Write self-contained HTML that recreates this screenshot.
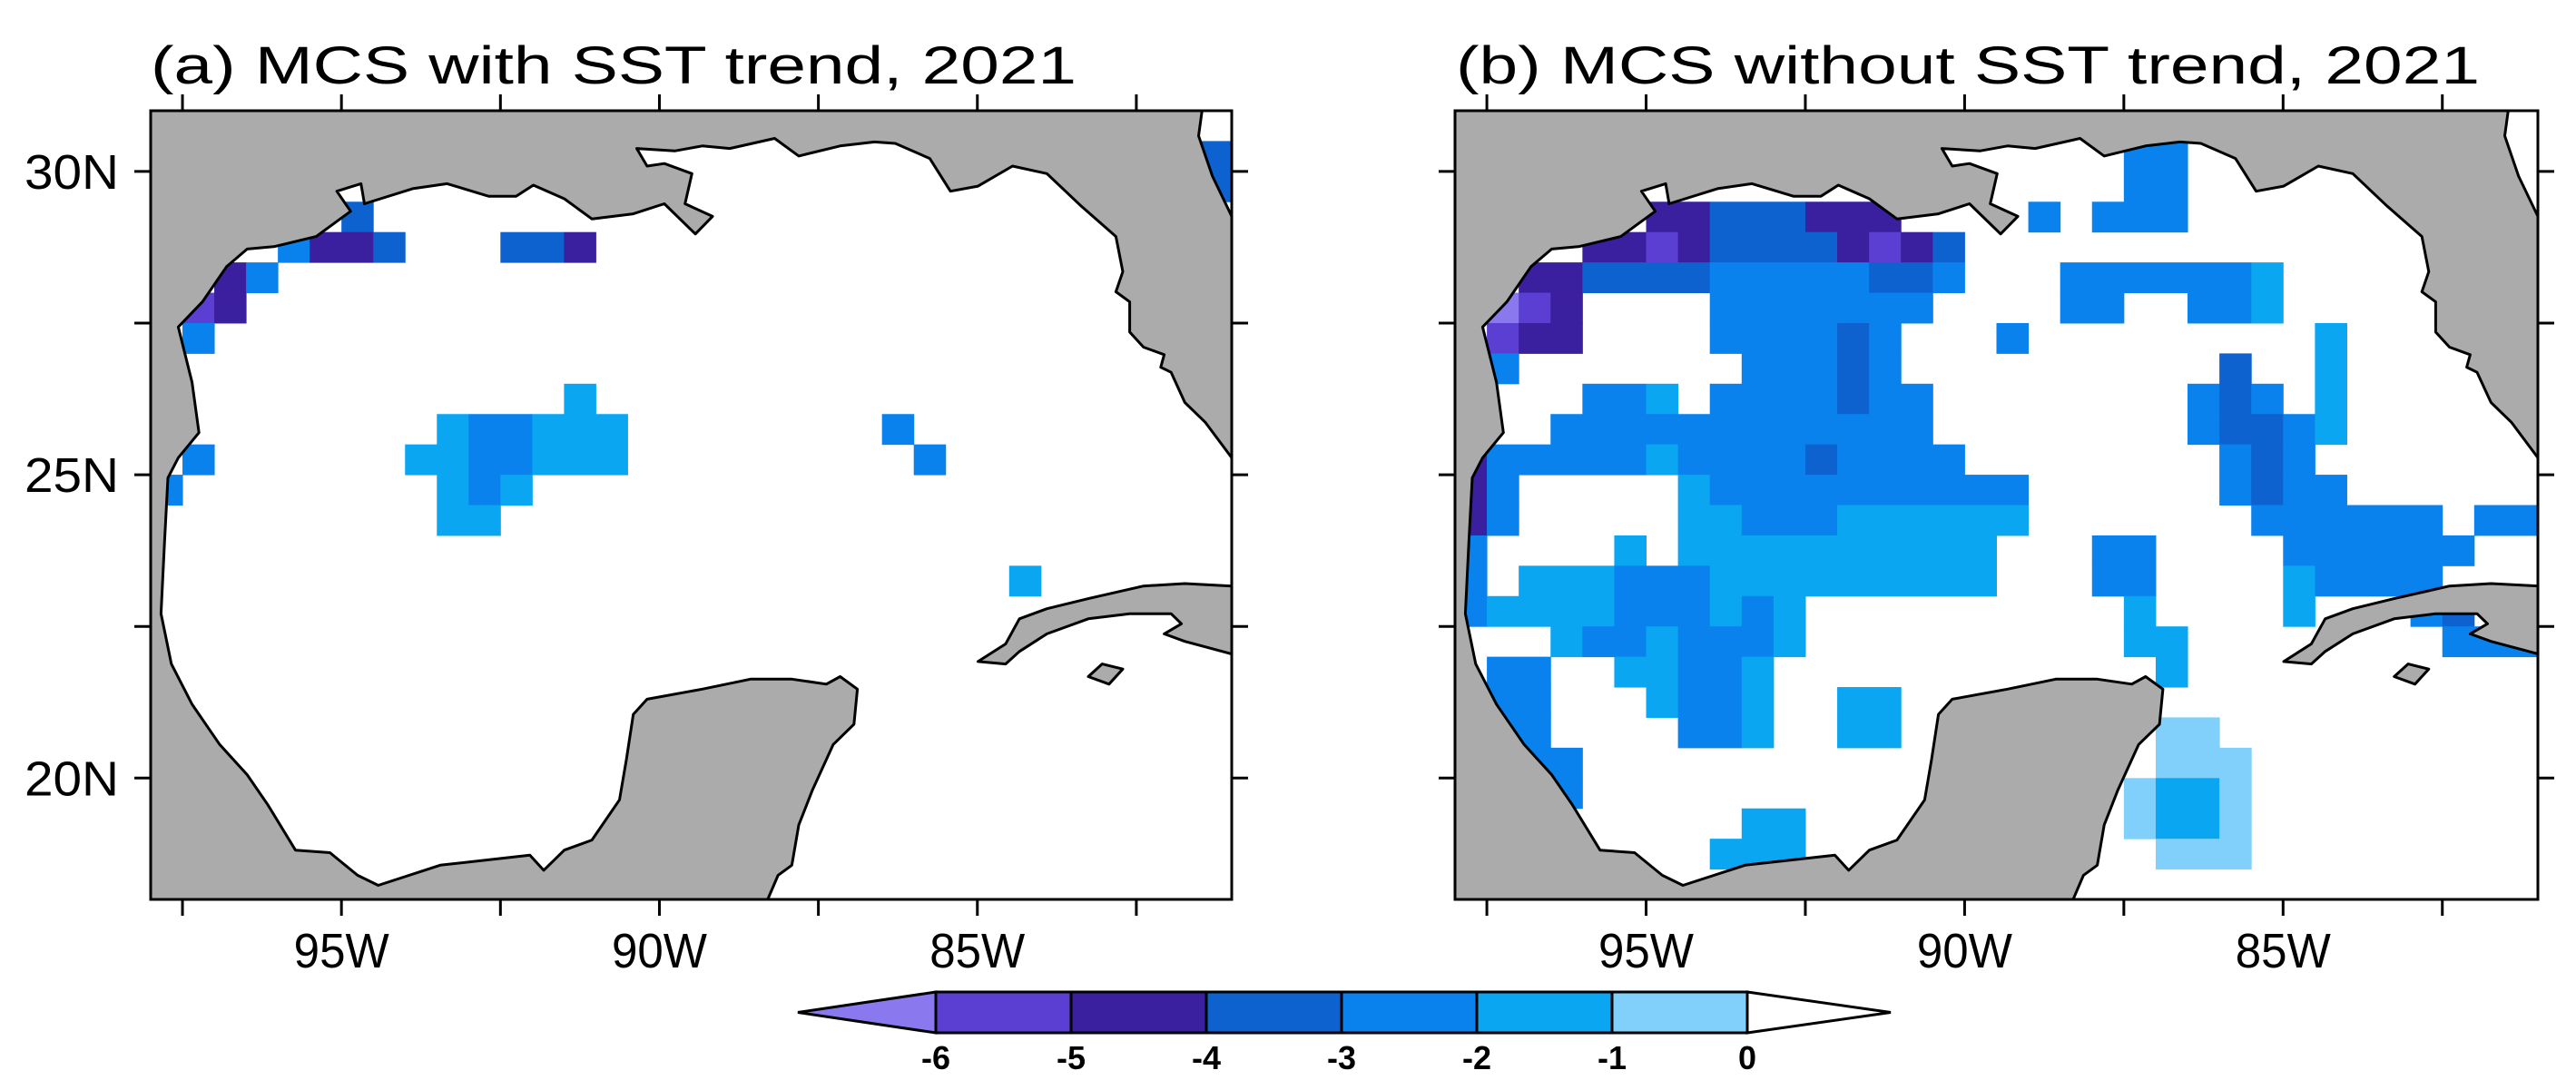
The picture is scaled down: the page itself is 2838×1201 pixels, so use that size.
<!DOCTYPE html>
<html><head><meta charset="utf-8"><title>MCS SST trend 2021</title>
<style>html,body{margin:0;padding:0;background:#fff}svg{display:block}text{font-family:"Liberation Sans",sans-serif;fill:#000}</style>
</head><body>
<svg id="fig" width="2838" height="1201" viewBox="0 0 2838 1201" xmlns="http://www.w3.org/2000/svg">
<defs>
<clipPath id="clipA"><rect x="166" y="122" width="1191" height="869"/></clipPath>
<clipPath id="clipB"><rect x="1603" y="122" width="1193" height="869"/></clipPath>
</defs>
<text x="166" y="92" font-size="58" textLength="1020" lengthAdjust="spacingAndGlyphs">(a) MCS with SST trend, 2021</text>
<text x="1604" y="92" font-size="58" textLength="1128" lengthAdjust="spacingAndGlyphs">(b) MCS without SST trend, 2021</text>
<g id="panelA"></g>
<g id="panelB"></g>
<g id="cbar"></g>
</svg>
<script>
// ---- data ----
const lonMin = -98, lonMax = -81, latMin = 18, latMax = 31;
const cellSize = 0.5;
const levels = [-6, -5, -4, -3, -2, -1, 0];
const levelColors = ["#8a78ee", "#5a3fd2", "#3a1f9e", "#0d62cf", "#0a82ee", "#0aa6f2", "#80d0fb", "#ffffff"];
const latTicks = [30, 27.5, 25, 22.5, 20];
const latLabels = ["30N", "", "25N", "", "20N"];
const lonTicks = [-97.5, -95, -92.5, -90, -87.5, -85, -82.5];
const lonLabels = ["", "95W", "", "90W", "", "85W", ""];
const cbarLabels = ["-6", "-5", "-4", "-3", "-2", "-1", "0"];
// runs: [row, colStart, colEnd, value]  (row 0 = 31N-30.5N, col 0 = 98W-97.5W)
const panelARuns = [
[1,33,33,-3.5],[2,33,33,-3.5],[3,6,6,-3.5],[4,4,4,-2.5],[4,5,6,-4.5],[4,7,7,-3.5],[4,11,12,-3.5],[4,13,13,-4.5],
[5,2,2,-4.5],[5,3,3,-2.5],[6,1,1,-5.5],[6,2,2,-4.5],[7,1,1,-2.5],[9,13,13,-1.5],
[10,9,9,-1.5],[10,10,11,-2.5],[10,12,14,-1.5],[10,23,23,-2.5],
[11,1,1,-2.5],[11,8,9,-1.5],[11,10,11,-2.5],[11,12,14,-1.5],[11,24,24,-2.5],
[12,0,0,-2.5],[12,9,9,-1.5],[12,10,10,-2.5],[12,11,11,-1.5],[13,9,10,-1.5],[15,27,27,-1.5]
];
const panelBRuns = [
[1,21,22,-2.5],[2,21,22,-2.5],
[3,6,7,-4.5],[3,8,10,-3.5],[3,11,13,-4.5],[3,18,18,-2.5],[3,20,22,-2.5],
[4,4,5,-4.5],[4,6,6,-5.5],[4,7,7,-4.5],[4,8,11,-3.5],[4,12,12,-4.5],[4,13,13,-5.5],[4,14,14,-4.5],[4,15,15,-3.5],
[5,2,3,-4.5],[5,4,7,-3.5],[5,8,12,-2.5],[5,13,14,-3.5],[5,15,15,-2.5],[5,19,24,-2.5],[5,25,25,-1.5],
[6,1,1,-6.5],[6,2,2,-5.5],[6,3,3,-4.5],[6,8,14,-2.5],[6,19,20,-2.5],[6,23,24,-2.5],[6,25,25,-1.5],
[7,1,1,-5.5],[7,2,3,-4.5],[7,8,11,-2.5],[7,12,12,-3.5],[7,13,13,-2.5],[7,17,17,-2.5],[7,27,27,-1.5],
[8,1,1,-2.5],[8,9,11,-2.5],[8,12,12,-3.5],[8,13,13,-2.5],[8,24,24,-3.5],[8,27,27,-1.5],
[9,4,5,-2.5],[9,6,6,-1.5],[9,8,11,-2.5],[9,12,12,-3.5],[9,13,14,-2.5],[9,23,23,-2.5],[9,24,24,-3.5],[9,25,25,-2.5],[9,27,27,-1.5],
[10,3,14,-2.5],[10,23,23,-2.5],[10,24,25,-3.5],[10,26,26,-2.5],[10,27,27,-1.5],
[11,0,0,-4.5],[11,1,5,-2.5],[11,6,6,-1.5],[11,7,10,-2.5],[11,11,11,-3.5],[11,12,15,-2.5],[11,24,24,-2.5],[11,25,25,-3.5],[11,26,26,-2.5],
[12,0,0,-4.5],[12,1,1,-2.5],[12,7,7,-1.5],[12,8,17,-2.5],[12,24,24,-2.5],[12,25,25,-3.5],[12,26,27,-2.5],
[13,0,0,-4.5],[13,1,1,-2.5],[13,7,8,-1.5],[13,9,11,-2.5],[13,12,17,-1.5],[13,25,30,-2.5],[13,32,33,-2.5],
[14,0,0,-2.5],[14,5,5,-1.5],[14,7,16,-1.5],[14,20,21,-2.5],[14,26,31,-2.5],
[15,0,0,-2.5],[15,2,4,-1.5],[15,5,7,-2.5],[15,8,16,-1.5],[15,20,21,-2.5],[15,26,26,-1.5],[15,27,30,-2.5],
[16,0,0,-2.5],[16,1,4,-1.5],[16,5,7,-2.5],[16,8,8,-1.5],[16,9,9,-2.5],[16,10,10,-1.5],[16,21,21,-1.5],[16,26,26,-1.5],[16,30,30,-2.5],[16,31,31,-3.5],[16,33,33,-2.5],
[17,3,3,-1.5],[17,4,5,-2.5],[17,6,6,-1.5],[17,7,9,-2.5],[17,10,10,-1.5],[17,21,22,-1.5],[17,31,33,-2.5],
[18,1,2,-2.5],[18,5,6,-1.5],[18,7,8,-2.5],[18,9,9,-1.5],[18,22,22,-1.5],
[19,1,2,-2.5],[19,6,6,-1.5],[19,7,8,-2.5],[19,9,9,-1.5],[19,12,13,-1.5],
[20,1,2,-2.5],[20,7,8,-2.5],[20,9,9,-1.5],[20,12,13,-1.5],[20,22,23,-0.5],
[21,2,3,-2.5],[21,22,24,-0.5],
[22,2,3,-2.5],[22,21,21,-0.5],[22,22,23,-1.5],[22,24,24,-0.5],
[23,9,10,-1.5],[23,21,21,-0.5],[23,22,23,-1.5],[23,24,24,-0.5],
[24,8,10,-1.5],[24,22,24,-0.5]
];
// coastline geometry in normalized map units (0..1568 across lon/lat extent)
const mainland = [[0,0],[1525,0],[1520,50],[1540,130],[1568,210],[1568,690],[1530,620],[1500,580],[1480,520],[1465,510],[1470,485],[1440,470],[1420,440],[1420,380],[1400,360],[1410,320],[1400,250],[1350,190],[1300,125],[1250,110],[1200,150],[1160,160],[1130,95],[1080,65],[1050,62],[1000,70],[940,90],[905,55],[840,75],[800,70],[760,80],[705,75],[720,110],[745,105],[785,125],[775,185],[815,210],[790,245],[745,185],[700,205],[640,215],[600,175],[555,148],[530,170],[490,170],[430,145],[380,155],[310,185],[305,145],[270,160],[290,200],[240,250],[180,270],[140,275],[110,310],[75,380],[40,430],[60,540],[70,640],[40,690],[25,730],[20,860],[15,1000],[30,1100],[60,1180],[100,1260],[140,1320],[170,1380],[210,1470],[260,1475],[300,1520],[330,1540],[420,1500],[550,1480],[570,1510],[600,1470],[640,1450],[680,1370],[690,1290],[700,1200],[720,1170],[800,1150],[870,1130],[930,1130],[980,1140],[1000,1125],[1025,1150],[1020,1220],[990,1260],[960,1350],[940,1420],[930,1500],[910,1520],[895,1568],[0,1568]];
const cuba = [[1200,1095],[1240,1060],[1260,1010],[1300,990],[1360,970],[1440,945],[1500,940],[1568,945],[1568,1080],[1500,1055],[1470,1040],[1495,1020],[1480,1000],[1420,1000],[1360,1010],[1300,1040],[1260,1075],[1240,1100]];
const isle = [[1360,1125],[1380,1100],[1410,1110],[1390,1140]];

const NS = "http://www.w3.org/2000/svg";
function mk(tag, attrs, parent){ const e=document.createElementNS(NS,tag); for(const k in attrs) e.setAttribute(k,attrs[k]); parent.appendChild(e); return e; }
function colorFor(v){ for(let i=0;i<levels.length;i++){ if(v<levels[i]) return levelColors[i]; } return levelColors[levels.length]; }

function drawPanel(g, x0, w, runs, clipId, showLatLabels){
  const y0 = 122, h = 869;
  const xOf = lon => x0 + (lon - lonMin) / (lonMax - lonMin) * w;
  const yOf = lat => y0 + (latMax - lat) / (latMax - latMin) * h;
  const uToLon = u => lonMin + u / 1568 * (lonMax - lonMin);
  const vToLat = v => latMax - v / 1568 * (latMax - latMin);
  const inner = mk('g', {'clip-path': 'url(#' + clipId + ')'}, g);
  runs.forEach(r => {
    const latTop = latMax - r[0] * cellSize, latBot = latTop - cellSize;
    const lonL = lonMin + r[1] * cellSize, lonR = lonMin + (r[2] + 1) * cellSize;
    const rect = mk('rect', {x: xOf(lonL), y: yOf(latTop), width: xOf(lonR) - xOf(lonL) + 0.5, height: yOf(latBot) - yOf(latTop) + 0.5, fill: colorFor(r[3])}, inner);
    
    
  });
  const pts = arr => arr.map(p => xOf(uToLon(p[0])).toFixed(1) + ',' + yOf(vToLat(p[1])).toFixed(1)).join(' ');
  [[mainland,'mainland'],[cuba,'cuba'],[isle,'isla-de-la-juventud']].forEach(([poly,name]) => {
    const p = mk('polygon', {points: pts(poly), fill: '#ababab', stroke: '#000', 'stroke-width': 3, 'stroke-linejoin': 'round'}, inner);
    
    
  });
  const fr = mk('rect', {x: x0, y: y0, width: w, height: h, fill: 'none', stroke: '#000', 'stroke-width': 3}, g);
  
  
  latTicks.forEach((lat, i) => {
    const y = yOf(lat);
    mk('line', {x1: x0 - 18, x2: x0, y1: y, y2: y, stroke: '#000', 'stroke-width': 3}, g);
    mk('line', {x1: x0 + w, x2: x0 + w + 18, y1: y, y2: y, stroke: '#000', 'stroke-width': 3}, g);
    if (showLatLabels && latLabels[i]) {
      const t = mk('text', {x: x0 - 35, y: y + 19, 'font-size': 54, 'text-anchor': 'end', textLength: 104, lengthAdjust: 'spacingAndGlyphs'}, g);
      t.textContent = latLabels[i];
      
      
    }
  });
  lonTicks.forEach((lon, i) => {
    const x = xOf(lon);
    mk('line', {x1: x, x2: x, y1: y0 - 18, y2: y0, stroke: '#000', 'stroke-width': 3}, g);
    mk('line', {x1: x, x2: x, y1: y0 + h, y2: y0 + h + 18, stroke: '#000', 'stroke-width': 3}, g);
    if (lonLabels[i]) {
      const t = mk('text', {x: x, y: 1066, 'font-size': 54, 'text-anchor': 'middle', textLength: 105, lengthAdjust: 'spacingAndGlyphs'}, g);
      t.textContent = lonLabels[i];
      
      
    }
  });
}
drawPanel(document.getElementById('panelA'), 166, 1191, panelARuns, 'clipA', true);
drawPanel(document.getElementById('panelB'), 1603, 1193, panelBRuns, 'clipB', false);

// colorbar
(function(){
  const g = document.getElementById('cbar');
  const bx0 = 1031, bx1 = 1925, top = 1093, bot = 1138, mid = (top + bot) / 2, tipL = 879, tipR = 2083;
  const bw = (bx1 - bx0) / (levels.length - 1);
  const xl = i => bx0 + i * bw;
  const lt = mk('polygon', {points: `${tipL},${mid} ${bx0},${top} ${bx0},${bot}`, fill: levelColors[0], stroke: '#000', 'stroke-width': 3}, g);
  
  
  for (let i = 0; i < levels.length - 1; i++) {
    const r = mk('rect', {x: xl(i), y: top, width: bw, height: bot - top, fill: levelColors[i + 1], stroke: '#000', 'stroke-width': 3}, g);
    
    
  }
  const rt = mk('polygon', {points: `${bx1},${top} ${tipR},${mid} ${bx1},${bot}`, fill: levelColors[levels.length], stroke: '#000', 'stroke-width': 3}, g);
  
  
  cbarLabels.forEach((s, i) => {
    const t = mk('text', {x: xl(i), y: 1178, 'font-size': 36, 'font-weight': 'bold', 'text-anchor': 'middle'}, g);
    t.textContent = s;
    
    
  });
})();
</script>
</body></html>
